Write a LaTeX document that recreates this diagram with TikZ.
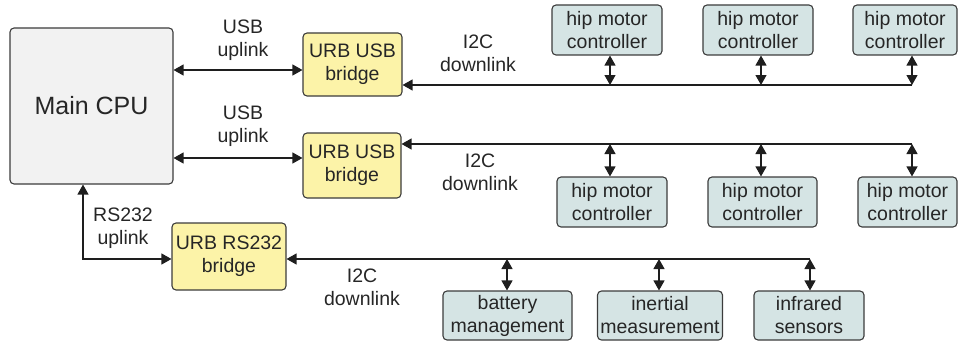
\documentclass[tikz,border=0pt]{standalone}
\usepackage{fontspec}
\setmainfont{Liberation Sans}
\usetikzlibrary{arrows.meta}
\definecolor{cpufill}{RGB}{242,242,242}
\definecolor{bridgefill}{RGB}{252,243,168}
\definecolor{devfill}{RGB}{213,228,228}
\definecolor{boxline}{RGB}{60,60,60}
\definecolor{wire}{RGB}{30,30,30}
\begin{document}
\begin{tikzpicture}[x=1pt,y=-1pt,
  box/.style={draw=boxline, line width=1.1pt, rounded corners=4pt, align=center,
    font=\fontsize{19.5}{23}\selectfont, inner sep=0pt, text=black!85},
  cpubox/.style={box, fill=cpufill, font=\fontsize{25}{29}\selectfont},
  bridgebox/.style={box, fill=bridgefill},
  devbox/.style={box, fill=devfill},
  lbl/.style={align=center, font=\fontsize{19.5}{23}\selectfont, inner sep=0pt, text=black!85},
  tip/.style={-{Triangle[length=10pt,width=11pt]}, line width=1.2pt, draw=wire},
  dbl/.style={{Triangle[length=10pt,width=11pt]}-{Triangle[length=10pt,width=11pt]}, line width=1.2pt, draw=wire}
]
\useasboundingbox (0,0) rectangle (958,345);

% main blocks
\node[cpubox, minimum width=163pt, minimum height=156pt] (cpu) at (91.5,106) {Main CPU};
\node[bridgebox, minimum width=99pt, minimum height=63pt] (b1) at (352.5,64.5) {URB USB\\bridge};
\node[bridgebox, minimum width=98pt, minimum height=65pt] (b2) at (352,165.5) {URB USB\\bridge};
\node[bridgebox, minimum width=114pt, minimum height=67pt] (b3) at (229,256.5) {URB RS232\\bridge};

% top row controllers
\node[devbox, minimum width=110pt, minimum height=50pt] (h1) at (607,30) {hip motor\\controller};
\node[devbox, minimum width=110pt, minimum height=50pt] (h2) at (758,30) {hip motor\\controller};
\node[devbox, minimum width=104pt, minimum height=50pt] (h3) at (905,30) {hip motor\\controller};

% second row controllers
\node[devbox, minimum width=110pt, minimum height=50pt] (g1) at (612,202) {hip motor\\controller};
\node[devbox, minimum width=109pt, minimum height=50pt] (g2) at (762.5,202) {hip motor\\controller};
\node[devbox, minimum width=99pt, minimum height=50pt] (g3) at (907.5,202) {hip motor\\controller};

% sensors
\node[devbox, minimum width=129pt, minimum height=49pt] (bat) at (507.5,315.5) {battery\\management};
\node[devbox, minimum width=125pt, minimum height=49pt] (ine) at (660,315.5) {inertial\\measurement};
\node[devbox, minimum width=110pt, minimum height=49pt] (inf) at (809,315.5) {infrared\\sensors};

% labels
\node[lbl] (lu1) at (243,40) {USB\\uplink};
\node[lbl] (lu2) at (243,126) {USB\\uplink};
\node[lbl] (li1) at (478,53) {I2C\\downlink};
\node[lbl] (li2) at (480,172) {I2C\\downlink};
\node[lbl] (li3) at (362,287) {I2C\\downlink};
\node[lbl] (lr) at (123,228) {RS232\\uplink};

% USB uplinks
\coordinate (u1) at (240,70);
\coordinate (u2) at (240,158);
\draw[dbl] (cpu.east |- u1) -- (b1.west |- u1);
\draw[dbl] (cpu.east |- u2) -- (b2.west |- u2);

% RS232 uplink
\coordinate (r) at (83,259);
\draw[dbl] (cpu.south -| r) -- (r) -- (b3.west |- r);

% top I2C bus
\coordinate (t1) at (610,85);
\coordinate (t2) at (761,85);
\coordinate (t3) at (912,85);
\draw[tip] (t3) -- (b1.east |- t3);
\draw[dbl] (h1.south -| t1) -- (t1);
\draw[dbl] (h2.south -| t2) -- (t2);
\draw[dbl] (h3.south -| t3) -- (t3);

% second I2C bus
\coordinate (m1) at (610,144);
\coordinate (m2) at (761,144);
\coordinate (m3) at (912,144);
\draw[tip] (m3) -- (b2.east |- m3);
\draw[dbl] (m1) -- (g1.north -| m1);
\draw[dbl] (m2) -- (g2.north -| m2);
\draw[dbl] (m3) -- (g3.north -| m3);

% bottom I2C bus
\coordinate (s1) at (507,259);
\coordinate (s2) at (659,259);
\coordinate (s3) at (810,259);
\draw[tip] (s3) -- (b3.east |- s3);
\draw[dbl] (s1) -- (bat.north -| s1);
\draw[dbl] (s2) -- (ine.north -| s2);
\draw[dbl] (s3) -- (inf.north -| s3);
\end{tikzpicture}
\end{document}
